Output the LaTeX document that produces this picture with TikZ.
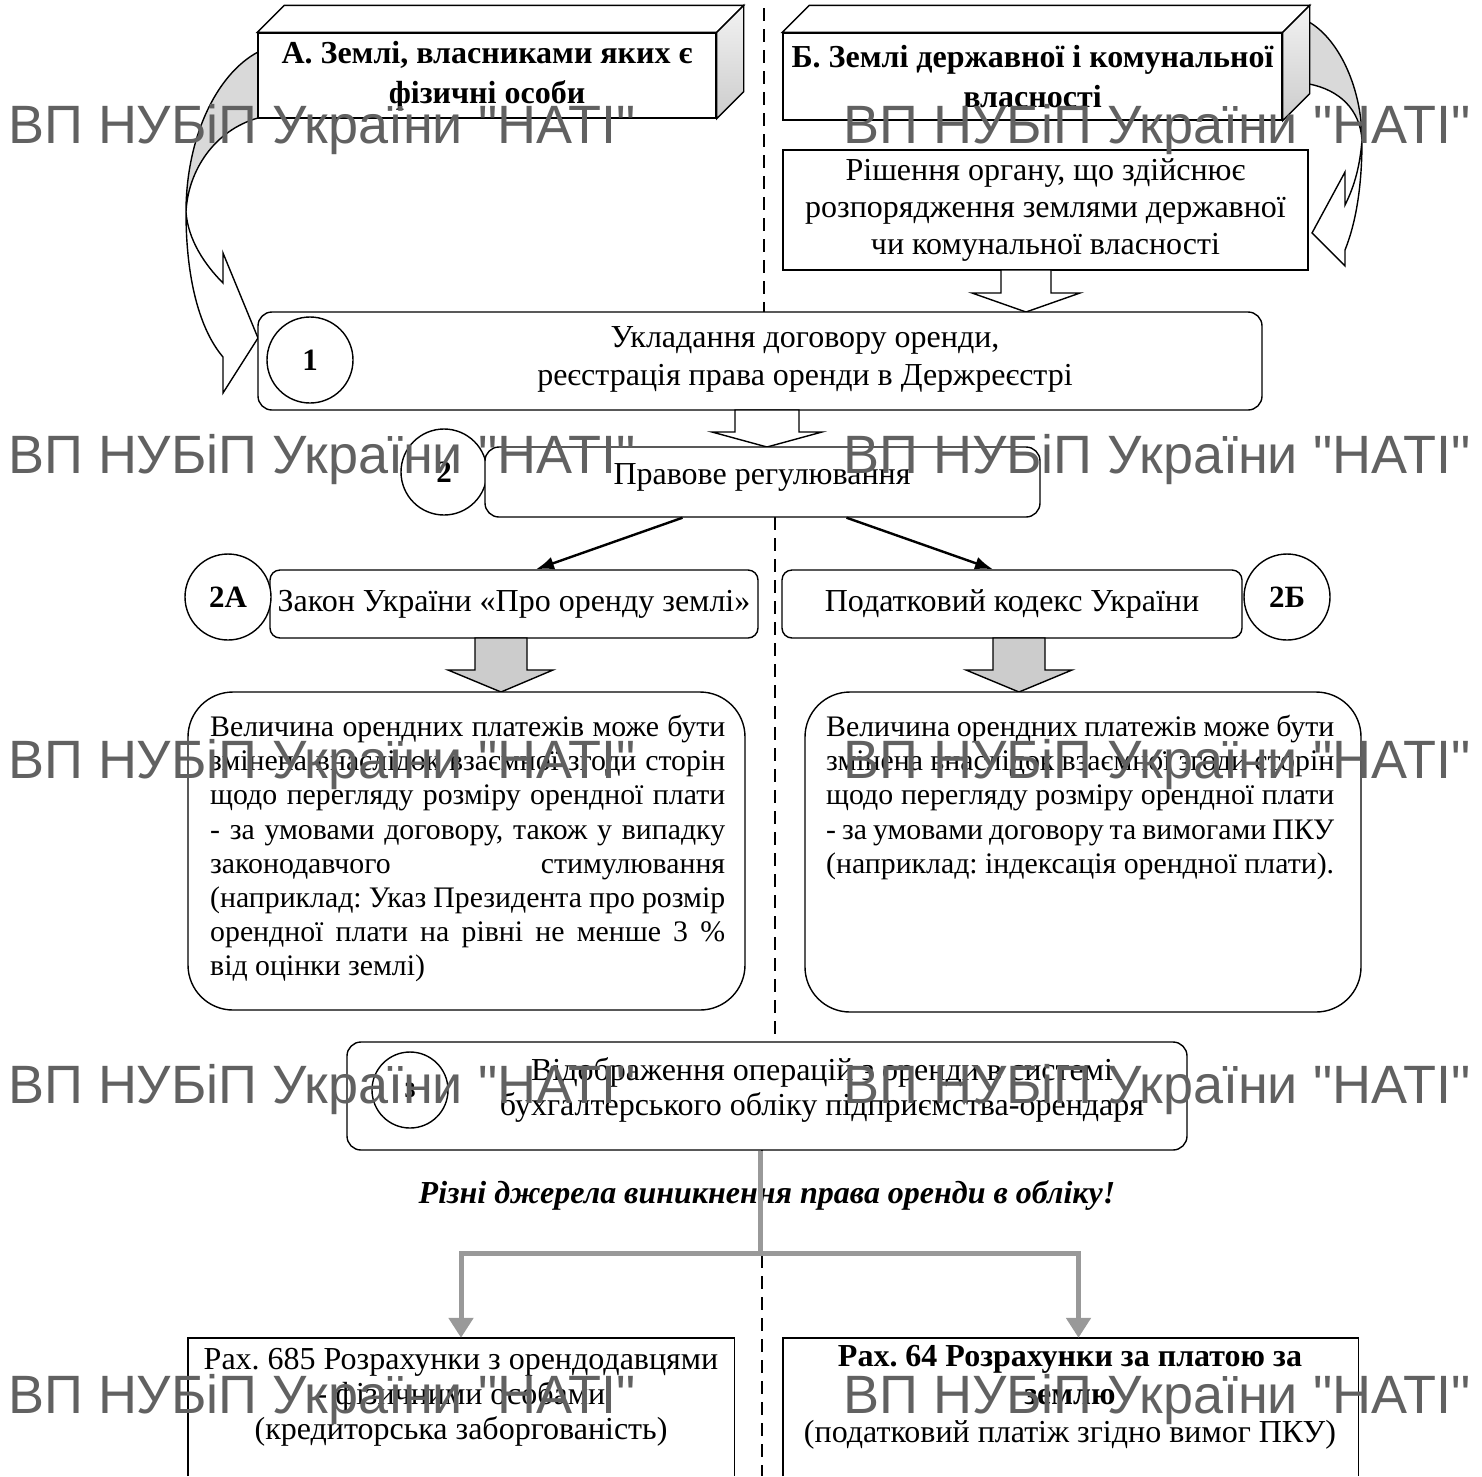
\documentclass[tikz,border=0pt]{standalone}
\usepackage{fontspec}
\setmainfont{Liberation Serif}
\newfontfamily\wmfont{Liberation Sans}
\usetikzlibrary{positioning}
\usetikzlibrary{arrows.meta}
\newcommand{\jline}[2]{\makebox[#1][s]{#2}}
\frenchspacing

\begin{document}
\begin{tikzpicture}[x=1pt, y=-1pt,
    plainbox/.style={draw, line width=1.4pt, fill=white, inner sep=0pt, align=center, font=\fontsize{32}{37}\selectfont},
    roundbox/.style={plainbox, rounded corners=14pt},
    num/.style={draw, circle, line width=1.4pt, fill=white, inner sep=0pt, minimum size=86pt, font=\fontsize{31}{34}\selectfont\bfseries},
    body/.style={inner sep=0pt, align=center, font=\fontsize{32}{37}\selectfont},
    hollow/.style={draw, line width=1.4pt, fill=white, line join=miter},
    greyblock/.style={draw, line width=1.4pt, fill=gray!40, line join=miter},
    feed/.style={-{Latex[length=18pt,width=13pt]}, line width=2.4pt},
    branch/.style={line width=5pt, draw=black!40, -{Triangle[length=20pt,width=24pt]}},
    divider/.style={line width=2pt, dash pattern=on 13pt off 8pt},
    wmark/.style={inner sep=0pt, anchor=base west, text=black!62, font=\wmfont\fontsize{54}{60}\selectfont}
  ]
\useasboundingbox (0,0) rectangle (1482,1476);

% dashed divider
\draw[divider] (764,8) -- (764,447);
\draw[divider] (775,517) -- (775,1042);
\draw[divider] (762,1150) -- (762,1476);

% curved arrow A -> 1
\fill[gray!30] (258,52) .. controls (215,75) and (186,140) .. (186,212) .. controls (188,170) and (215,130) .. (258,118) -- cycle;
\draw[line width=1.4pt] (258,52) .. controls (215,75) and (186,140) .. (186,212) .. controls (188,170) and (215,130) .. (258,118);
\draw[hollow] (186,212) .. controls (186,280) and (200,330) .. (223,357) -- (223,393) -- (258,338) -- (223,253) -- (223,283) .. controls (205,265) and (188,240) .. (186,212) -- cycle;

% curved arrow B -> decision
\fill[gray!30] (1309,22) .. controls (1340,40) and (1362,90) .. (1362,140) .. controls (1360,110) and (1340,90) .. (1309,84) -- cycle;
\draw[line width=1.4pt] (1309,22) .. controls (1340,40) and (1362,90) .. (1362,140) .. controls (1360,110) and (1340,90) .. (1309,84);
\draw[hollow] (1362,140) .. controls (1362,190) and (1355,225) .. (1345,250) -- (1345,266) -- (1312,233) -- (1345,172) -- (1345,205) .. controls (1355,185) and (1360,165) .. (1362,140) -- cycle;

% owners
\node[plainbox, minimum width=458pt, minimum height=85pt, font=\fontsize{32}{40}\selectfont\bfseries] (landA) at (487,75.5) {А. Землі, власниками яких є\\фізичні особи};
\draw[line width=1.4pt, fill=white] (landA.north west) -- ++(27,-27) -- ([shift={(27,-27)}]landA.north east) -- (landA.north east) -- cycle;
\draw[line width=1.4pt, top color=gray!10, bottom color=gray!40] (landA.north east) -- ([shift={(27,-27)}]landA.north east) -- ([shift={(27,-27)}]landA.south east) -- (landA.south east) -- cycle;

\node[plainbox, minimum width=499pt, minimum height=87pt, font=\fontsize{32}{40}\selectfont\bfseries] (landB) at (1032.5,76.5) {Б. Землі державної і комунальної\\власності};
\draw[line width=1.4pt, fill=white] (landB.north west) -- ++(27,-27) -- ([shift={(27,-27)}]landB.north east) -- (landB.north east) -- cycle;
\draw[line width=1.4pt, top color=gray!10, bottom color=gray!40] (landB.north east) -- ([shift={(27,-27)}]landB.north east) -- ([shift={(27,-27)}]landB.south east) -- (landB.south east) -- cycle;

\node[plainbox, minimum width=525pt, minimum height=120pt] (decision) at (1045.5,210) {Рішення органу, що здійснює\\розпорядження землями державної\\чи комунальної власності};

% lease
\draw[hollow] (1001,270) -- (1001,293) -- (972,293) -- (1026,312) -- (1080,293) -- (1051,293) -- (1051,270) -- cycle;
\node[roundbox, minimum width=1004pt, minimum height=98pt] (lease) at (760,361) {};
\node[num] (n1) at (310,360) {1};
\node[body, font=\fontsize{32}{38}\selectfont] (leasetext) at (805,359) {Укладання договору оренди,\\реєстрація права оренди в Держреєстрі};

% regulation
\draw[hollow] (735,410) -- (735,432) -- (712,432) -- (767,447) -- (822,432) -- (799,432) -- (799,410) -- cycle;
\node[num] (n2) at (444,472) {2};
\node[roundbox, minimum width=555pt, minimum height=70pt] (rules) at (762.5,482) {};
\node[body] (rulestext) at (762,477) {Правове регулювання};

\node[roundbox, rounded corners=10pt, minimum width=488pt, minimum height=68pt] (law) at (514,604) {Закон України «Про оренду землі»};
\node[num] (n2a) at (228,597) {2А};
\node[roundbox, rounded corners=10pt, minimum width=460pt, minimum height=68pt] (code) at (1012,604) {Податковий кодекс України};
\node[num] (n2b) at (1287,597) {2Б};

\draw[feed] ([xshift=-80pt]rules.south) -- ([xshift=22pt]law.north);
\draw[feed] ([xshift=84pt]rules.south) -- ([xshift=-19pt]code.north);

\draw[greyblock] (475,638) -- (475,670) -- (448,670) -- (501,692) -- (553,670) -- (527,670) -- (527,638) -- cycle;
\draw[greyblock] (993,638) -- (993,670) -- (966,670) -- (1019,692) -- (1072,670) -- (1045,670) -- (1045,638) -- cycle;

\node[roundbox, rounded corners=45pt, minimum width=557pt, minimum height=318pt] (lawbox) at (466.5,851) {};
\node[body, align=left, anchor=north west, font=\fontsize{29.8}{34.2}\selectfont] (lawtext) at (210,715) {%
\jline{515pt}{Величина орендних платежів може бути}\\
\jline{515pt}{змінена внаслідок взаємної згоди сторін}\\
\jline{515pt}{щодо перегляду розміру орендної плати}\\
\jline{515pt}{- за умовами договору, також у випадку}\\
\jline{515pt}{законодавчого \hfill стимулювання}\\
\jline{515pt}{(наприклад: Указ Президента про розмір}\\
\jline{515pt}{орендної плати на рівні не менше 3 \%}\\
від оцінки землі)};

\node[roundbox, rounded corners=45pt, minimum width=556pt, minimum height=320pt] (codebox) at (1083,852) {};
\node[body, align=left, anchor=north west, font=\fontsize{29.8}{34.2}\selectfont] (codetext) at (826,715) {%
\jline{508pt}{Величина орендних платежів може бути}\\
\jline{508pt}{змінена внаслідок взаємної згоди сторін}\\
\jline{508pt}{щодо перегляду розміру орендної плати}\\
\jline{508pt}{- за умовами договору та вимогами ПКУ}\\
(наприклад: індексація орендної плати).};

% accounting
\node[roundbox, minimum width=840pt, minimum height=108pt] (books) at (767,1096) {};
\node[num, minimum size=76pt, font=\fontsize{22}{26}\selectfont\bfseries] (n3) at (410,1090) {3};
\node[body, font=\fontsize{32}{35}\selectfont] (bookstext) at (822,1090) {Відображення операцій з оренди в системі\\бухгалтерського обліку підприємства-орендаря};

\node[body, below=30pt of books, font=\fontsize{32}{35}\selectfont\bfseries\itshape] (note) {Різні джерела виникнення права оренди в обліку!};

\node[inner sep=0pt, minimum width=546pt, minimum height=138pt] (acc685) at (461,1407) {};
\node[inner sep=0pt, minimum width=575pt, minimum height=138pt] (acc64) at (1070.5,1407) {};
\draw[line width=1.4pt] (acc685.south west) |- (acc685.north east) -- (acc685.south east);
\draw[line width=1.4pt] (acc64.south west) |- (acc64.north east) -- (acc64.south east);
\node[body, font=\fontsize{32}{35}\selectfont] (acc685text) at (461,1397) {Рах. 685 Розрахунки з орендодавцями\\- фізичними особами\\(кредиторська заборгованість)};
\node[body, font=\fontsize{32}{38}\selectfont] (acc64text) at (1070,1397) {\textbf{Рах. 64 Розрахунки за платою за}\\\textbf{землю}\\(податковий платіж згідно вимог ПКУ)};

\coordinate (split) at (760,1253);
\draw[line width=5pt, draw=black!40] (books.south -| split) -- (split);
\draw[branch] (split) -| (acc685.north);
\draw[branch] (split) -| ([xshift=8pt]acc64.north);

% watermark
\foreach \y in {143,473,778,1103,1413} {
  \node[wmark] (wmL-\y) at (8,\y) {ВП НУБіП України "НАТІ"};
  \node[wmark] (wmR-\y) at (843,\y) {ВП НУБіП України "НАТІ"};
}
\end{tikzpicture}
\end{document}
